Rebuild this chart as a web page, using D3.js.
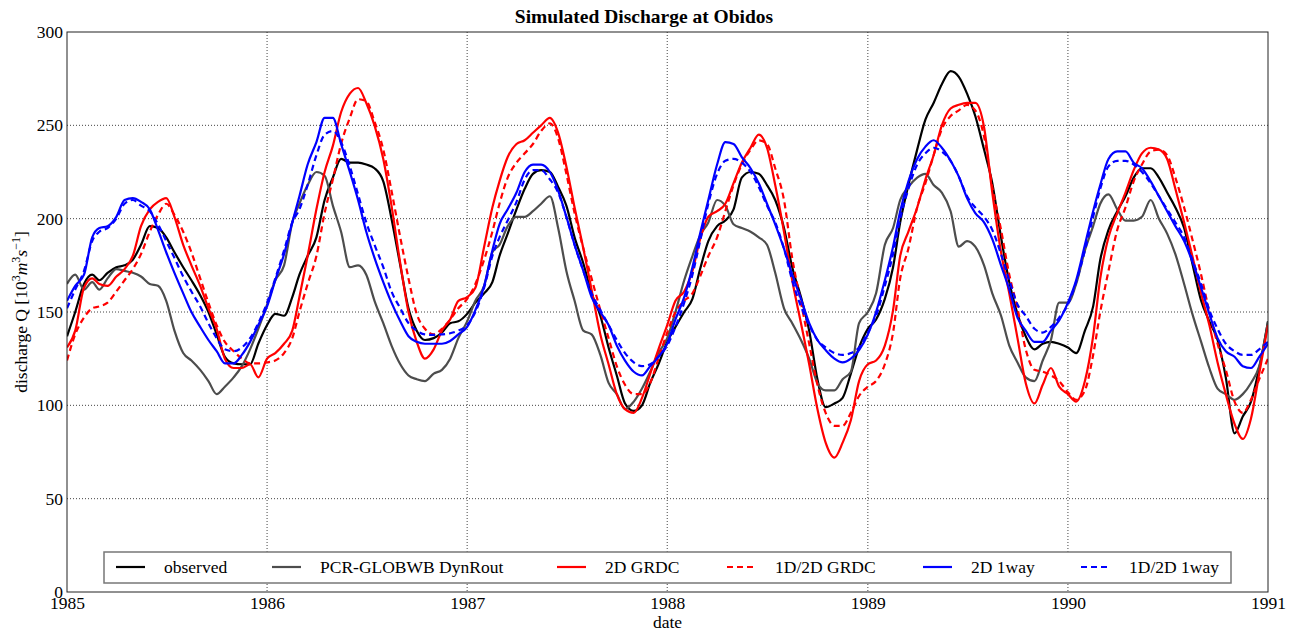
<!DOCTYPE html>
<html>
<head>
<meta charset="utf-8">
<script src="https://cdn.jsdelivr.net/npm/d3@7"></script>
<style>
  html, body { margin: 0; padding: 0; background: #fff; }
  svg text { font-family: "Liberation Serif", "Times New Roman", "DejaVu Serif", serif; fill: #000; }
</style>
</head>
<body>
<svg id="chart" width="1298" height="637"></svg>
<script>
// ---- Data (half-monthly samples, Jan 1985 .. Jan 1991, values in 10^3 m^3/s) ----
const startYear = 1985;
const yearTicks = [1985, 1986, 1987, 1988, 1989, 1990, 1991];
const valueTicks = [0, 50, 100, 150, 200, 250, 300];

const observed = [137,150,165,170,167,171,174,175,178,186,196,195,190,182,174,167,159,150,138,126,122.5,122,122,133,143,149,148,158,170,180,
  190,210,222,232,230,230,229,227,220,200,175,152,140,135,136,139,144,145,149,155,160,166,180,192,205,216,224,226,
  225,217,207,190,176,160,148,131,116,101,97,100,112,122,134,142,150,157,173,188,196,199,205,222,225,224,218,210,
  195,174,158,140,114,99,101,104,117,131,141,146,157,174,198,218,237,253,262,272,279,276,267,255,237,219,190,166,149,137,
  130,133,134,133,131,128,140,153,178,194,204,212,222,227,227,222,214,206,195,176,156,145,135,115,85,94,102,120,145];

const pcrGlobwb = [165,170,162,166,162,168,173,172,171,169,165,164,156,140,128,124,119,113,106,110,115,121,130,141,154,167,175,198,208,218,
  225,223,207,193,174,175,170,156,144,132,122,116,114,113,117,119,125,136,145,156,164,182,186,196,201,201,204,208,
  212,195,172,156,140,138,127,112,106,98,102,109,118,128,136,150,167,180,191,198,210,207,197,195,193,190,186,171,
  152,144,135,125,112,108,108,114,118,144,150,160,186,195,210,217,222,224,218,214,204,185,188,185,175,160,148,132,123,115,
  113,124,135,155,155,165,183,196,208,213,205,199,199,201,210,200,192,181,165,149,134,120,109,106,103,106,112,121,145];

const grdc2D = [131,140,163,168,165,164,169,173,180,196,205,209,211,201,186,175,164,152,141,125,120,120,122,115,125,128,133,140,158,180,
  205,225,239,257,267,270,262,250,232,207,176,150,134,125,130,140,146,156,158,163,185,206,220,233,240,242,246,250,
  254,246,228,206,184,162,138,122,106,98,96,104,117,130,143,156,161,172,189,201,204,208,219,230,238,245,238,218,
  193,167,144,122,98,80,72,80,92,113,122,124,132,151,180,193,206,221,234,250,259,261,262,262,249,214,182,160,136,112,
  101,111,120,110,106,102,113,137,168,190,203,214,226,235,238,237,232,216,198,180,160,143,123,106,90,82,93,117,143];

const grdc1D2D = [124,138,147,152,153,155,161,167,173,181,193,202,208,202,193,182,168,155,143,134,129,125,122.5,122.5,123,124,128,136,150,165,
  180,203,221,240,254,264,263,252,237,215,190,168,149,141,138,141,146,152,157,165,178,193,208,222,230,235,240,247,
  251,243,224,203,184,168,151,136,121,111,106,106,112,125,139,150,156,160,169,180,190,204,218,229,237,242,240,227,
  210,179,155,133,111,96,89,89,96,105,110,113,122,139,168,184,206,219,234,248,255,258,261,258,244,217,194,170,152,130,
  119,118,116,113,107,103,108,127,150,172,194,206,220,229,236,237,234,222,206,189,170,150,133,119,102,96,103,114,125];

const oneway2D = [156,164,170,190,195,196,201,210,211,209,205,194,182,171,160,150,142,135,129,122.5,122.5,127,134,143,153,167,181,198,212,229,
  241,254,254,240,225,210,193,179,166,155,145,137,134,133,133,133,134.5,138,142,151,164,183,197,205,214,225,229,229,
  225,215,201,186,172,158,150,143,132,124,118,116,121,126,133,146,158,174,192,210,229,241,240,233,227,219,208,197,
  184,170,157,144,135,129.6,125,123,125,129.6,138,150,167,185,204,220,232,238.6,242,238,231,222.5,211,203,198,189,175,162,147,140,
  134,134,140,145.5,155,167,186,204,218,232,236,236,230,227,220,212,204,196,188,177,163,149,136,129,126,121,120,126,133];

const oneway1D2D = [152,162,172,188,193,195,200,208,210,207,204,197,188,179,169,161,153,144,136,130,129,131,136,144,155,168,183,198,205,218,
  234,245,247,241,228,213,198,186,174,161,152,144,140,138,137.7,138,138.6,140,143,150,163,180,190,199,209,221,226,226,
  221,214,201,186,172,160,151,143,135,128,123,121,122,126,132,142,155,170,188,208,224,231,232,230,225,217,207,198,
  184,167,153,143,135,131,128,127,128,131,139,148,164,181,200,216,229,235,238,236,231,222.5,212,206,201,194,181,167,154,148,
  141,139,142,147,154,166,183,201,216,228,231,231,229,225,219,212,205,198,190,178,165,151,141,133,129,127,127,130,134];

const seriesNames = ["observed", "PCR-GLOBWB DynRout", "2D GRDC", "1D/2D GRDC", "2D 1way", "1D/2D 1way"];
const seriesValues = [observed, pcrGlobwb, grdc2D, grdc1D2D, oneway2D, oneway1D2D];

// ---- Styles ----
const styles = [
  { color: "#000000", dash: null },
  { color: "#4d4d4d", dash: null },
  { color: "#ff0000", dash: null },
  { color: "#ff0000", dash: "6,4" },
  { color: "#0000ff", dash: null },
  { color: "#0000ff", dash: "6,4" }
];

// sample dates: 1st and 16th of each month
function sampleDate(i) {
  return new Date(startYear, Math.floor(i / 2), i % 2 ? 16 : 1);
}

const svg = d3.select("#chart");
const margin = { left: 67, right: 1268, top: 32, bottom: 592 };

const x = d3.scaleTime()
  .domain([new Date(startYear, 0, 1), new Date(yearTicks[yearTicks.length - 1], 0, 1)])
  .range([margin.left, margin.right]);
const y = d3.scaleLinear().domain([0, 300]).range([margin.bottom, margin.top]);

// clip
svg.append("defs").append("clipPath").attr("id", "clip")
  .append("rect").attr("x", margin.left).attr("y", margin.top)
  .attr("width", margin.right - margin.left).attr("height", margin.bottom - margin.top);

// grid
const grid = svg.append("g");
grid.selectAll("line.vx").data(yearTicks.slice(1, -1)).enter().append("line")
  .attr("x1", d => x(new Date(d, 0, 1))).attr("x2", d => x(new Date(d, 0, 1)))
  .attr("y1", margin.top).attr("y2", margin.bottom)
  .attr("stroke", "#444").attr("stroke-width", 1).attr("stroke-dasharray", "1,2");
grid.selectAll("line.hy").data(valueTicks.slice(1, -1)).enter().append("line")
  .attr("x1", margin.left).attr("x2", margin.right)
  .attr("y1", d => y(d)).attr("y2", d => y(d))
  .attr("stroke", "#444").attr("stroke-width", 1).attr("stroke-dasharray", "1,2");

// axes via d3
const xAxis = d3.axisBottom(x)
  .tickValues(yearTicks.map(d => new Date(d, 0, 1)))
  .tickFormat(d3.timeFormat("%Y")).tickSize(0).tickPadding(6);
const gx = svg.append("g").attr("transform", `translate(0,${margin.bottom})`).call(xAxis);
gx.select(".domain").remove();
gx.selectAll("text").attr("font-size", 17.5).attr("font-family", "Liberation Serif, Times New Roman, serif").attr("fill", "#000").attr("dy", "0.62em");

const yAxis = d3.axisLeft(y).tickValues(valueTicks).tickSize(0).tickPadding(4);
const gy = svg.append("g").attr("transform", `translate(${margin.left},0)`).call(yAxis);
gy.select(".domain").remove();
gy.selectAll("text").attr("font-size", 17.5).attr("font-family", "Liberation Serif, Times New Roman, serif").attr("fill", "#000");

// lines
const line = d3.line()
  .x((d, i) => x(sampleDate(i)))
  .y(d => y(d))
  .curve(d3.curveMonotoneX);

const drawOrder = [0, 1, 2, 3, 4, 5];
const lines = svg.append("g").attr("clip-path", "url(#clip)");
drawOrder.forEach(k => {
  lines.append("path")
    .datum(seriesValues[k])
    .attr("d", line)
    .attr("fill", "none")
    .attr("stroke", styles[k].color)
    .attr("stroke-width", 2.2)
    .attr("stroke-linejoin", "round")
    .attr("stroke-dasharray", styles[k].dash);
});

// frame
svg.append("rect")
  .attr("x", margin.left).attr("y", margin.top)
  .attr("width", margin.right - margin.left).attr("height", margin.bottom - margin.top)
  .attr("fill", "none").attr("stroke", "#222").attr("stroke-width", 1);

// title
svg.append("text").attr("x", 644).attr("y", 23).attr("text-anchor", "middle")
  .attr("font-size", 19.5).attr("font-weight", "bold").text("Simulated Discharge at Obidos");

// x label
svg.append("text").attr("x", (margin.left + margin.right) / 2).attr("y", 628)
  .attr("text-anchor", "middle").attr("font-size", 17.5).text("date");

// y label
const yl = svg.append("text")
  .attr("transform", `translate(27,${(margin.top + margin.bottom) / 2}) rotate(-90)`)
  .attr("text-anchor", "middle").attr("font-size", 17.5);
yl.append("tspan").text("discharge Q [10");
yl.append("tspan").attr("baseline-shift", "super").attr("font-size", 12).text("3");
yl.append("tspan").attr("font-style", "italic").text("m");
yl.append("tspan").attr("baseline-shift", "super").attr("font-size", 12).text("3");
yl.append("tspan").attr("font-style", "italic").text("s");
yl.append("tspan").attr("baseline-shift", "super").attr("font-size", 12).text("\u22121");
yl.append("tspan").text("]");

// legend
const legX = [116, 272, 557, 727, 923, 1081];
const leg = svg.append("g");
leg.append("rect").attr("x", 104).attr("y", 552).attr("width", 1127).attr("height", 31)
  .attr("fill", "#fff").attr("stroke", "#777").attr("stroke-width", 1.5);
seriesNames.forEach((name, k) => {
  leg.append("line")
    .attr("x1", legX[k]).attr("x2", legX[k] + 29)
    .attr("y1", 567).attr("y2", 567)
    .attr("stroke", styles[k].color).attr("stroke-width", 2.2)
    .attr("stroke-dasharray", styles[k].dash);
  leg.append("text").attr("x", legX[k] + 48).attr("y", 567).attr("dy", "0.33em")
    .attr("font-size", 17.5).text(name);
});
</script>
</body>
</html>
